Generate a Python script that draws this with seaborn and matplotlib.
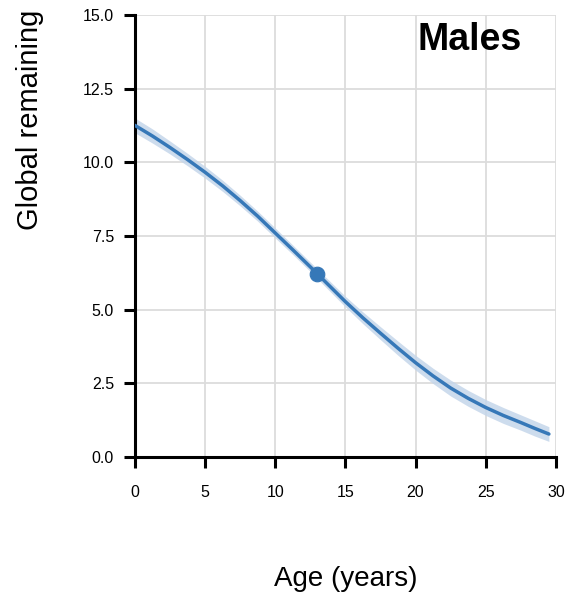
import matplotlib
matplotlib.use("Agg")
import numpy as np
import pandas as pd
import matplotlib.pyplot as plt
import seaborn as sns

# values
age = [0, 1.25, 2.5, 3.75, 5, 6.25, 7.5, 8.75, 10, 11.25, 12.5, 13.75, 15,
       16.25, 17.5, 18.75, 20, 21.25, 22.5, 23.75, 25, 26.25, 27.5, 28.5, 29.5]
remaining = [11.25, 10.89, 10.5, 10.09, 9.66, 9.2, 8.7, 8.17, 7.6, 7.03, 6.45, 5.86, 5.27,
             4.72, 4.2, 3.69, 3.2, 2.75, 2.34, 1.99, 1.68, 1.41, 1.17, 0.97, 0.78]
band_half = [0.25, 0.24, 0.22, 0.21, 0.2, 0.19, 0.18, 0.17, 0.17, 0.16, 0.16, 0.17, 0.18,
             0.2, 0.22, 0.24, 0.25, 0.26, 0.27, 0.27, 0.27, 0.27, 0.26, 0.26, 0.25]
point_age = [13]
point_val = [6.21]

df = pd.DataFrame({'age': age, 'remaining': remaining, 'half': band_half})
df['lo'] = df['remaining'] - df['half']
df['hi'] = df['remaining'] + df['half']

sns.set_theme(style='whitegrid')
plt.rcParams['font.family'] = ['Liberation Sans', 'DejaVu Sans']

fig = plt.figure(figsize=(5.69, 5.92), dpi=100)
ax = fig.add_axes([0.237, 0.228, 0.74, 0.747])

line_col = '#3678b8'
ax.fill_between(df['age'], df['lo'], df['hi'], color='#c5d6ea', alpha=0.85, lw=0, zorder=2)
sns.lineplot(x='age', y='remaining', data=df, color=line_col, lw=2.5, ax=ax, zorder=3)
sns.scatterplot(x=point_age, y=point_val, color=line_col, s=110, edgecolor=line_col, ax=ax, zorder=4)

ax.set_xlim(0, 30)
ax.set_ylim(0, 15)
ax.set_xticks([0, 5, 10, 15, 20, 25, 30])
ax.set_yticks([0, 2.5, 5, 7.5, 10, 12.5, 15])
ax.set_yticklabels(['0.0', '2.5', '5.0', '7.5', '10.0', '12.5', '15.0'])
ax.grid(True, color='#dcdcdc', lw=1.3)
for s in ['top', 'right']:
    ax.spines[s].set_visible(False)
for s in ['left', 'bottom']:
    ax.spines[s].set_color('black')
    ax.spines[s].set_linewidth(2.2)
ax.tick_params(axis='both', which='major', length=8, width=2.2, color='black',
               labelsize=11.5, labelcolor='black', direction='out', left=True, bottom=True)
ax.tick_params(axis='x', pad=12)
ax.tick_params(axis='y', pad=7)

ax.set_xlabel('Age (years)', fontsize=20, labelpad=48, color='black')
ax.set_ylabel('')
fig.text(0.053, 0.611, 'Global remaining', rotation=90, va='bottom', ha='center',
         fontsize=21, color='black')
ax.text(0.796, 0.943, 'Males', transform=ax.transAxes, ha='center', va='center',
        fontsize=27, fontweight='bold', color='black')

fig.savefig('out.png', dpi=100, facecolor='white')
